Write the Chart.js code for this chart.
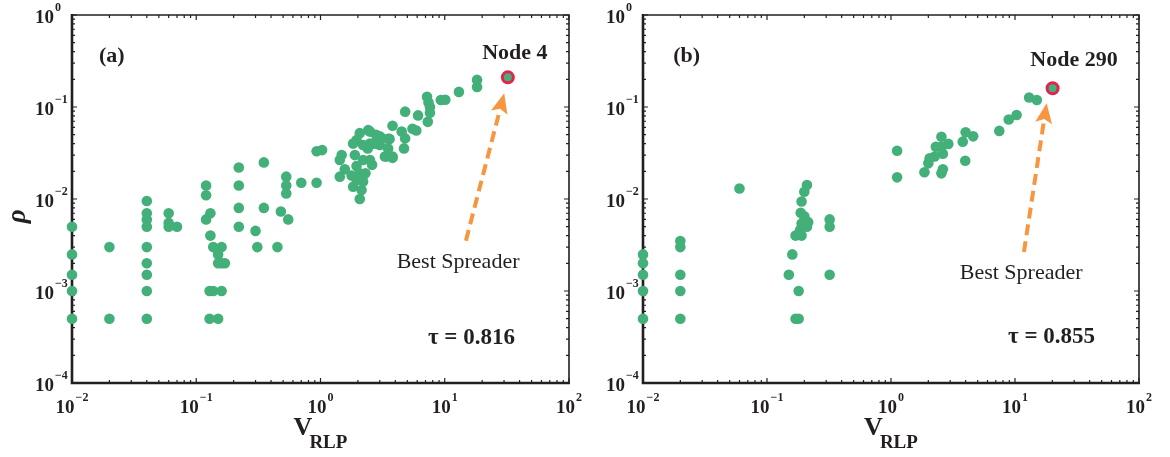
<!DOCTYPE html>
<html>
<head>
<meta charset="utf-8">
<script src="https://cdn.jsdelivr.net/npm/chart.js@4/dist/chart.umd.min.js"></script>
<style>
  html, body { margin: 0; padding: 0; background: #fff; }
  #wrap { position: relative; width: 1170px; height: 457px; }
  canvas { position: absolute; top: 0; }
</style>
</head>
<body>
<div id="wrap">
  <canvas id="chartA" width="585" height="457" style="left:0"></canvas>
  <canvas id="chartB" width="585" height="457" style="left:585px"></canvas>
</div>
<script>
// axis ticks (decade exponents)
const xExps = [-2, -1, 0, 1, 2];
const yExps = [0, -1, -2, -3, -4];

// panel (a)
const aX = [0.01, 0.01, 0.01, 0.01, 0.01, 0.02, 0.02,
  0.04, 0.04, 0.04, 0.04, 0.04, 0.04, 0.04, 0.04, 0.04,
  0.06, 0.06, 0.06, 0.07, 0.12, 0.12, 0.12, 0.13, 0.13, 0.128, 0.128, 0.137, 0.137,
  0.15, 0.15, 0.15, 0.16, 0.16, 0.16, 0.17,
  0.22, 0.22, 0.22, 0.22, 0.30, 0.31, 0.35, 0.35, 0.45, 0.48, 0.53, 0.53, 0.53, 0.55,
  0.70, 0.93, 0.93, 1.03,
  1.43, 1.43, 1.48, 1.57, 1.78, 1.83, 1.83, 1.89, 1.95, 1.95, 1.95, 2.07, 2.14, 2.07, 2.07,
  2.2, 2.2, 2.2, 2.2, 2.3, 2.42, 2.4, 2.5, 2.5, 2.5, 2.6, 2.65, 2.8, 2.8, 3.0, 3.0, 3.1,
  3.3, 3.4, 3.5, 3.5, 3.6, 3.8, 3.8, 3.8, 4.5, 4.7, 4.8, 4.8, 5.5, 5.9, 6.1, 7.3, 7.6, 7.6,
  7.4, 7.2, 9.3, 10.1, 13.0, 18.2, 18.2];
const aY = [0.005, 0.0025, 0.0015, 0.001, 0.0005, 0.003, 0.0005,
  0.0095, 0.007, 0.006, 0.005, 0.003, 0.002, 0.0015, 0.001, 0.0005,
  0.007, 0.0055, 0.005, 0.005, 0.014, 0.011, 0.006, 0.007, 0.004, 0.001, 0.0005, 0.003, 0.001,
  0.0025, 0.002, 0.0005, 0.003, 0.002, 0.001, 0.002,
  0.022, 0.014, 0.008, 0.005, 0.0045, 0.003, 0.025, 0.008, 0.003, 0.0073, 0.0175, 0.014, 0.0115, 0.006,
  0.015, 0.015, 0.033, 0.034,
  0.0175, 0.0265, 0.030, 0.021, 0.018, 0.0136, 0.040, 0.030, 0.0228, 0.0438, 0.0161, 0.010, 0.0125, 0.052, 0.019,
  0.0265, 0.018, 0.0155, 0.0386, 0.019, 0.056, 0.0355, 0.054, 0.0265, 0.040, 0.0235, 0.040, 0.050, 0.040, 0.048, 0.0386, 0.046,
  0.029, 0.029, 0.0355, 0.045, 0.045, 0.028, 0.029, 0.0625, 0.054, 0.0355, 0.0456, 0.089, 0.058, 0.0555, 0.081, 0.069, 0.0867, 0.100,
  0.112, 0.129, 0.119, 0.120, 0.146, 0.165, 0.197];
const aNode = { x: 32.2, y: 0.21 };

// panel (b)
const bX = [0.01, 0.01, 0.01, 0.01, 0.01, 0.02, 0.02, 0.02, 0.02, 0.02,
  0.06, 0.15, 0.16, 0.18, 0.17, 0.18,
  0.17, 0.19, 0.185, 0.21, 0.2, 0.215, 0.187, 0.19, 0.2, 0.21, 0.19, 0.2, 0.18,
  0.32, 0.32, 0.32,
  1.12, 1.12, 1.86, 2.0, 2.05, 2.25, 2.3, 2.55, 2.62, 2.9, 2.55, 2.55, 2.62,
  3.79, 4.0, 4.6, 3.97, 7.47, 8.9, 10.3, 13.0, 15.0];
const bY = [0.0025, 0.002, 0.0015, 0.001, 0.0005, 0.0035, 0.003, 0.0015, 0.001, 0.0005,
  0.013, 0.0015, 0.0025, 0.001, 0.0005, 0.0005,
  0.004, 0.004, 0.0046, 0.005, 0.0058, 0.0056, 0.0071, 0.0094, 0.012, 0.0142, 0.0054, 0.0065, 0.0042,
  0.006, 0.005, 0.0015,
  0.0335, 0.0172, 0.0195, 0.0244, 0.0277, 0.029, 0.037, 0.0475, 0.031, 0.0397, 0.037, 0.019, 0.021,
  0.042, 0.053, 0.048, 0.026, 0.055, 0.073, 0.082, 0.127, 0.119];
const bNode = { x: 20.1, y: 0.16 };

const GREEN = "#43b07a";
const RED = "#e4234b";
const ORANGE = "#f7963f";
const INK = "#231f20";
const SERIF = '"Liberation Serif", "DejaVu Serif", serif';

// annotations in data coordinates
const aNotes = {
  tag: "(a)", tagAt: [0.0165, 0.308],
  node: "Node 4", nodeAt: [36.7, 0.332],
  best: [12.8, 0.00178],
  tau: "\u03c4 = 0.816", tauAt: [7.33, 2.65e-4],
  arrow: [[14.8, 0.00352], [30.1, 0.141]],
  yTitle: true,
};
const bNotes = {
  tag: "(b)", tagAt: [0.0175, 0.308],
  node: "Node 290", nodeAt: [29.9, 0.279],
  best: [11.2, 0.00135],
  tau: "\u03c4 = 0.855", tauAt: [8.79, 2.72e-4],
  arrow: [[11.8, 0.00265], [18.0, 0.11]],
  yTitle: false,
};

const axesPlugin = {
  id: "matlabAxes",
  beforeDatasetsDraw(chart) {
    const { ctx, chartArea: ca, scales } = chart;
    const xs = scales.x, ys = scales.y;
    ctx.save();
    ctx.strokeStyle = INK;
    // ticks, inward on all four sides
    ctx.lineWidth = 1.2;
    xExps.forEach((e) => {
      for (let m = 1; m <= 9; m++) {
        if (e === 2 && m > 1) break;
        const px = xs.getPixelForValue(m * Math.pow(10, e));
        const len = m === 1 ? 5 : 3;
        ctx.beginPath();
        ctx.moveTo(px, ca.bottom); ctx.lineTo(px, ca.bottom - len);
        ctx.moveTo(px, ca.top); ctx.lineTo(px, ca.top + len);
        ctx.stroke();
      }
    });
    yExps.forEach((e) => {
      for (let m = 1; m <= 9; m++) {
        if (e === 0 && m > 1) break;
        const py = ys.getPixelForValue(m * Math.pow(10, e));
        const len = m === 1 ? 5 : 3;
        ctx.beginPath();
        ctx.moveTo(ca.left, py); ctx.lineTo(ca.left + len, py);
        ctx.moveTo(ca.right, py); ctx.lineTo(ca.right - len, py);
        ctx.stroke();
      }
    });
    // box
    ctx.lineWidth = 1.6;
    ctx.beginPath();
    ctx.moveTo(ca.left, ca.top); ctx.lineTo(ca.right, ca.top); ctx.lineTo(ca.right, ca.bottom);
    ctx.stroke();
    ctx.lineWidth = 2.6;
    ctx.beginPath();
    ctx.moveTo(ca.left, ca.top - 1); ctx.lineTo(ca.left, ca.bottom); ctx.lineTo(ca.right + 1, ca.bottom);
    ctx.stroke();

    // tick labels 10^e
    ctx.fillStyle = INK;
    const big = "bold 19px " + SERIF, small = "bold 12px " + SERIF;
    const expText = (e) => (e < 0 ? "\u2212" + (-e) : String(e));
    ctx.textBaseline = "alphabetic";
    xExps.forEach((e) => {
      const px = xs.getPixelForValue(Math.pow(10, e));
      ctx.font = big; const w1 = ctx.measureText("10").width;
      ctx.font = small; const w2 = ctx.measureText(expText(e)).width;
      const x0 = px - (w1 + w2 + 1) / 2;
      ctx.textAlign = "left";
      ctx.font = big; ctx.fillText("10", x0, ca.bottom + 30);
      ctx.font = small; ctx.fillText(expText(e), x0 + w1 + 1, ca.bottom + 18);
    });
    yExps.forEach((e) => {
      const py = ys.getPixelForValue(Math.pow(10, e));
      ctx.textAlign = "right";
      ctx.font = big; ctx.fillText("10", ca.left - 18, py + 8);
      ctx.textAlign = "left";
      ctx.font = small; ctx.fillText(expText(e), ca.left - 17, py - 4);
    });

    // axis titles
    const cx = (ca.left + ca.right) / 2;
    ctx.textAlign = "left";
    ctx.font = "bold 26px " + SERIF; const wV = ctx.measureText("V").width;
    ctx.font = "bold 19px " + SERIF; const wR = ctx.measureText("RLP").width;
    const vx = cx - (wV + wR - 3) / 2;
    ctx.font = "bold 26px " + SERIF; ctx.fillText("V", vx, ca.bottom + 52);
    ctx.font = "bold 19px " + SERIF; ctx.fillText("RLP", vx + wV - 3, ca.bottom + 65);
    if (chart.options.plugins.matlabAxes.yTitle) {
      ctx.save();
      ctx.translate(ca.left - 54, ys.getPixelForValue(0.0065));
      ctx.rotate(-Math.PI / 2);
      ctx.font = "italic bold 27px " + SERIF;
      ctx.textAlign = "center"; ctx.textBaseline = "middle";
      ctx.fillText("\u03c1", 0, 0);
      ctx.restore();
    }
    ctx.restore();
  },
  afterDraw(chart) {
    const { ctx, scales } = chart;
    const n = chart.options.plugins.matlabAxes;
    const P = (v) => [scales.x.getPixelForValue(v[0]), scales.y.getPixelForValue(v[1])];
    ctx.save();
    // dashed arrow
    const [t0, t1] = [P(n.arrow[0]), P(n.arrow[1])];
    const ang = Math.atan2(t1[1] - t0[1], t1[0] - t0[0]);
    const headLen = 20, headW = 8.5;
    const bx = t1[0] - headLen * Math.cos(ang), by = t1[1] - headLen * Math.sin(ang);
    ctx.strokeStyle = ORANGE; ctx.fillStyle = ORANGE;
    ctx.lineWidth = 4; ctx.setLineDash([11, 6]);
    ctx.beginPath(); ctx.moveTo(t0[0], t0[1]); ctx.lineTo(bx + 3 * Math.cos(ang), by + 3 * Math.sin(ang)); ctx.stroke();
    ctx.setLineDash([]);
    const nx = -Math.sin(ang), ny = Math.cos(ang);
    ctx.beginPath();
    ctx.moveTo(t1[0], t1[1]);
    ctx.lineTo(bx + nx * headW, by + ny * headW);
    ctx.lineTo(bx + 4 * Math.cos(ang), by + 4 * Math.sin(ang));
    ctx.lineTo(bx - nx * headW, by - ny * headW);
    ctx.closePath(); ctx.fill();

    ctx.fillStyle = INK;
    ctx.textBaseline = "alphabetic";
    ctx.font = "bold 22px " + SERIF; ctx.textAlign = "left";
    let p = P(n.tagAt); ctx.fillText(n.tag, p[0], p[1]);
    p = P(n.nodeAt); ctx.textAlign = "center"; ctx.fillText(n.node, p[0], p[1]);
    ctx.font = "22px " + SERIF;
    p = P(n.best); ctx.fillText("Best Spreader", p[0], p[1]);
    ctx.font = "bold 23px " + SERIF; ctx.textAlign = "left";
    p = P(n.tauAt); ctx.fillText(n.tau, p[0], p[1]);
    ctx.restore();
  },
};

function makePanel(id, xs, ys, node, notes, pad) {
  const pts = xs.map((x, i) => ({ x, y: ys[i] }));
  return new Chart(document.getElementById(id), {
    type: "scatter",
    data: {
      datasets: [
        { data: pts, backgroundColor: GREEN, borderWidth: 0, pointRadius: 5.3, clip: false },
        { data: [node], backgroundColor: GREEN, borderColor: RED, borderWidth: 3, pointRadius: 5.5, clip: false },
      ],
    },
    options: {
      responsive: false,
      animation: false,
      events: [],
      devicePixelRatio: 1,
      layout: { padding: pad },
      plugins: { legend: { display: false }, tooltip: { enabled: false }, matlabAxes: notes },
      scales: {
        x: { type: "logarithmic", min: 0.01, max: 100, display: false },
        y: { type: "logarithmic", min: 1e-4, max: 1, display: false },
      },
    },
    plugins: [axesPlugin],
  });
}

makePanel("chartA", aX, aY, aNode, aNotes, { left: 72, right: 16, top: 15, bottom: 74 });
makePanel("chartB", bX, bY, bNode, bNotes, { left: 58, right: 31, top: 15, bottom: 74 });
</script>
</body>
</html>
